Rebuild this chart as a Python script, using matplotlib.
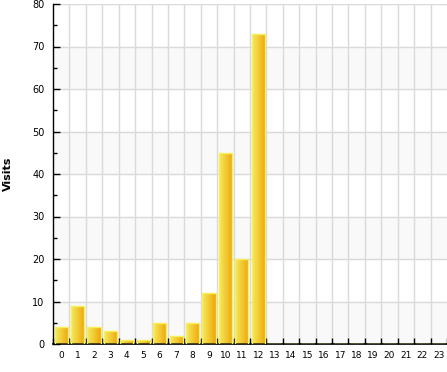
import numpy as np
import matplotlib.pyplot as plt
from matplotlib.colors import LinearSegmentedColormap

hours = list(range(24))
visits = [4, 9, 4, 3, 1, 1, 5, 2, 5, 12, 45, 20, 73] + [0] * 11

fig = plt.figure(figsize=(4.47, 3.72), dpi=100)
ax = fig.add_axes([53 / 447, 28 / 372, 394 / 447, 340 / 372])

# alternating bands
for lo in range(0, 80, 20):
    ax.axhspan(lo, lo + 10, color="#f9f9f9", zorder=0)

ax.set_xlim(-0.5, 23.5)
ax.set_ylim(0, 80)

# grid
for yv in range(10, 81, 10):
    ax.axhline(yv, color="#dadada", lw=1, zorder=1)
for xv in np.arange(0.5, 23.5, 1):
    ax.axvline(xv, color="#dadada", lw=1, zorder=1)

grad = LinearSegmentedColormap.from_list("g", ["#f5ea5f", "#f2c931", "#eea50d"])
bars = ax.bar(hours, visits, width=0.8, color="none", edgecolor="#f7ef5c",
              lw=1, zorder=3)
gimg = np.linspace(0, 1, 64).reshape(1, -1)
for b in bars:
    if b.get_height() <= 0:
        continue
    x0, w, h = b.get_x(), b.get_width(), b.get_height()
    im = ax.imshow(gimg, cmap=grad, aspect="auto", extent=[x0, x0 + w, 0, h],
                   zorder=2, interpolation="bilinear")
    im.set_clip_path(b)
ax.set_xlim(-0.5, 23.5)
ax.set_ylim(0, 80)

ax.set_xticks(hours)
ax.set_xticklabels([str(h) for h in hours], fontsize=6.5)
ax.set_xticks(np.arange(-0.5, 24, 1), minor=True)
ax.tick_params(axis="x", which="major", length=0, pad=5)
ax.tick_params(axis="x", which="minor", direction="in", length=4, width=1)

ax.set_yticks(range(0, 81, 10))
ax.set_yticklabels([str(v) for v in range(0, 81, 10)], fontsize=7)
ax.set_yticks(range(5, 80, 10), minor=True)
ax.tick_params(axis="y", which="major", direction="in", length=5, width=1, pad=6)
ax.tick_params(axis="y", which="minor", direction="in", length=3, width=1)

for s in ["top", "right"]:
    ax.spines[s].set_visible(False)
ax.spines["left"].set_linewidth(1)
ax.spines["bottom"].set_linewidth(1.2)

ax.set_ylabel("Visits", fontsize=8, fontweight="bold", labelpad=14)

fig.savefig("out.png", dpi=100)
